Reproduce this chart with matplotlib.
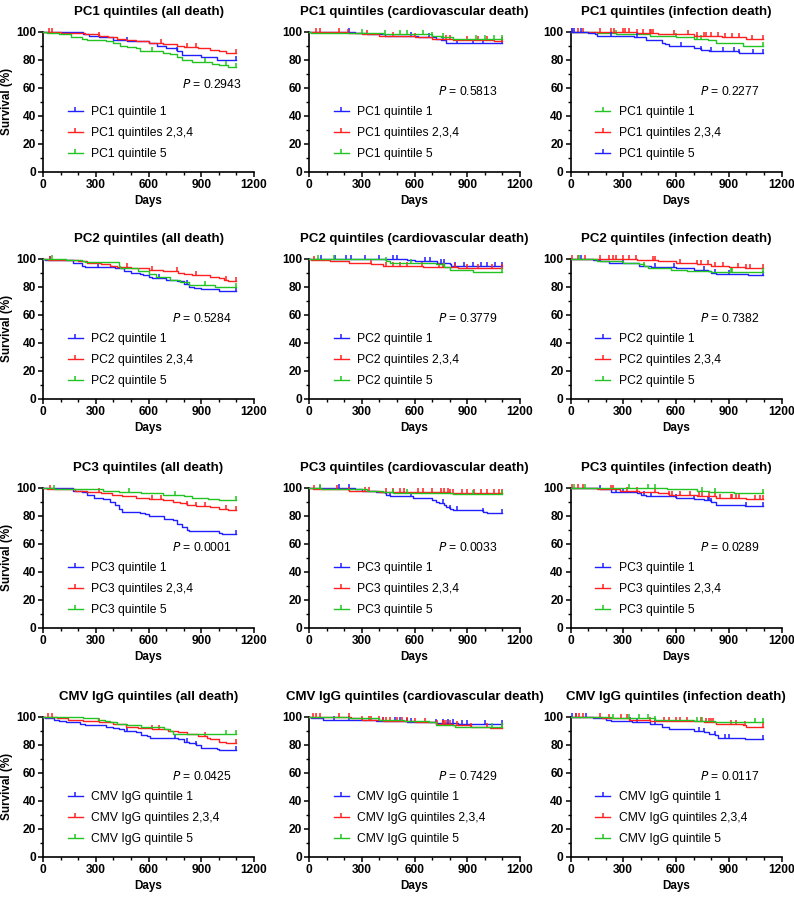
import numpy as np
import matplotlib
matplotlib.use("Agg")
import matplotlib.pyplot as plt
from matplotlib.ticker import MultipleLocator

plt.rcParams['font.family'] = ['Liberation Sans', 'DejaVu Sans']

# ---- data: step points (day, survival %) and censor days for each curve ----
# row 1: PC1
pc1_all_q1 = [(230, 98), (260, 97), (320, 96), (400, 94), (480, 93), (600, 92), (650, 90), (700, 88), (760, 86), (790, 83), (900, 82), (990, 80)]
pc1_all_q1_cens = [480, 760, 1095]
pc1_all_q234 = [(100, 99), (240, 98), (320, 97), (370, 96), (420, 95), (470, 94), (530, 93), (600, 92), (680, 91), (760, 90), (800, 89), (880, 88), (950, 87), (1000, 86), (1040, 85)]
pc1_all_q234_cens = [34, 53, 320, 670, 820, 870, 1095]
pc1_all_q5 = [(20, 99), (90, 98), (160, 96), (220, 95), (250, 94), (360, 93), (400, 92), (440, 90), (480, 89), (530, 88), (550, 86), (680, 85), (720, 84), (760, 82), (790, 80), (850, 78), (960, 77), (1000, 76), (1050, 75)]
pc1_all_q5_cens = [620, 920, 1040, 1095]

pc1_cv_q1 = [(260, 99), (330, 98), (430, 97), (620, 96), (720, 95), (750, 94), (780, 92)]
pc1_cv_q1_cens = [230, 580, 680, 760, 840, 930, 990, 1095]
pc1_cv_q234 = [(220, 99), (300, 98), (400, 97), (600, 96), (700, 95), (820, 94), (1050, 93.5)]
pc1_cv_q234_cens = [40, 60, 170, 220, 330, 480, 600, 780, 800, 900, 960, 1010, 1095]
pc1_cv_q5 = [(10, 99), (420, 98), (700, 97), (750, 96), (820, 95)]
pc1_cv_q5_cens = [300, 430, 520, 560, 650, 700, 760, 950, 1000, 1050, 1095]

pc1_inf_q1 = [(150, 99), (260, 98), (450, 97), (600, 96), (700, 95), (780, 94), (830, 92), (980, 90), (1000, 89.5)]
pc1_inf_q1_cens = [260, 600, 720, 740, 1095]
pc1_inf_q234 = [(380, 99), (500, 98), (700, 97), (860, 96), (1000, 95)]
pc1_inf_q234_cens = [10, 40, 70, 170, 230, 250, 300, 310, 330, 380, 410, 450, 460, 470, 590, 670, 720, 760, 770, 800, 840, 880, 920, 960, 1030, 1095]
pc1_inf_q5 = [(100, 99), (140, 98), (150, 97), (360, 96), (430, 94), (520, 92), (540, 91), (560, 90), (700, 88), (740, 87), (790, 86), (960, 85), (980, 84.5)]
pc1_inf_q5_cens = [10, 20, 60, 230, 380, 630, 740, 800, 870, 930, 960, 1040, 1095]

# row 2: PC2
pc2_all_q1 = [(10, 99), (170, 97), (220, 95), (240, 94), (410, 93), (460, 91), (500, 90), (550, 89), (570, 88), (600, 87), (620, 86), (700, 85), (760, 84), (800, 82), (830, 80), (860, 79), (900, 78), (1000, 77)]
pc2_all_q1_cens = [40, 310, 660, 820, 1095]
pc2_all_q234 = [(30, 99), (200, 98), (250, 97), (330, 96), (380, 95), (420, 94), (500, 93), (600, 92), (680, 91), (770, 90), (800, 89), (850, 88), (950, 87), (1000, 86), (1030, 85), (1050, 84)]
pc2_all_q234_cens = [40, 480, 620, 760, 870, 1040, 1095]
pc2_all_q5 = [(130, 99), (220, 98), (240, 97.5), (430, 95), (440, 93), (540, 91), (600, 89), (640, 87), (720, 85), (780, 83), (830, 81), (980, 80)]
pc2_all_q5_cens = [50, 920, 1095]

pc2_cv_q1 = [(560, 99), (600, 98), (730, 97), (800, 96), (810, 95), (830, 94.5)]
pc2_cv_q1_cens = [70, 150, 210, 240, 320, 400, 480, 500, 660, 690, 750, 770, 830, 880, 930, 980, 1010, 1060, 1095]
pc2_cv_q234 = [(10, 99), (120, 98), (230, 97), (350, 96), (420, 95), (650, 94), (850, 93)]
pc2_cv_q234_cens = [30, 350, 440, 480, 520, 560, 640, 740, 760, 770, 830, 900, 960, 1040, 1095]
pc2_cv_q5 = [(440, 98), (460, 97), (720, 96), (770, 94), (800, 92), (930, 90.5)]
pc2_cv_q5_cens = [50, 140, 440, 580, 770, 1095]

pc2_inf_q1 = [(130, 99), (170, 98), (220, 97), (390, 95), (460, 94), (600, 93), (700, 92), (780, 91), (800, 90), (830, 89), (1010, 88)]
pc2_inf_q1_cens = [60, 300, 480, 590, 760, 820, 900, 1095]
pc2_inf_q234 = [(380, 99), (500, 98), (600, 97), (720, 96), (800, 95), (900, 94), (990, 93.5)]
pc2_inf_q234_cens = [10, 40, 80, 170, 220, 240, 260, 300, 330, 370, 470, 480, 620, 720, 740, 780, 820, 870, 950, 1000, 1020, 1095]
pc2_inf_q5 = [(150, 98), (300, 97), (390, 96), (420, 95), (440, 93), (570, 92), (660, 91), (800, 90.5)]
pc2_inf_q5_cens = [50, 420, 910, 920, 1095]

# row 3: PC3
pc3_all_q1 = [(170, 98), (220, 97), (250, 95), (290, 93), (340, 92), (380, 90), (410, 88), (430, 85), (450, 83), (550, 82), (580, 81), (600, 80), (690, 78), (740, 77), (760, 74), (790, 72), (820, 70), (830, 69), (1000, 68), (1020, 67)]
pc3_all_q1_cens = [1095]
pc3_all_q234 = [(20, 99), (180, 98), (250, 97), (330, 96), (390, 95), (450, 94), (530, 93), (600, 92), (680, 91), (740, 90), (780, 89), (820, 88), (870, 87), (950, 86), (1000, 85), (1050, 84)]
pc3_all_q234_cens = [40, 320, 620, 670, 820, 870, 920, 1040, 1095]
pc3_all_q5 = [(60, 99), (340, 98), (430, 97), (560, 96), (680, 95), (800, 94), (850, 93), (940, 92), (1000, 91)]
pc3_all_q5_cens = [60, 490, 750, 1095]

pc3_cv_q1 = [(260, 99), (300, 98), (380, 97), (430, 96), (440, 95), (460, 94), (590, 93), (700, 91), (720, 90), (740, 89), (770, 88), (780, 86), (800, 85), (820, 84), (990, 83), (1010, 82)]
pc3_cv_q1_cens = [170, 230, 460, 580, 760, 800, 840, 990, 1095]
pc3_cv_q234 = [(20, 99), (230, 98), (400, 97), (800, 96)]
pc3_cv_q234_cens = [30, 60, 160, 230, 320, 340, 440, 480, 520, 540, 620, 650, 700, 750, 770, 790, 800, 820, 870, 900, 940, 980, 1010, 1050, 1080, 1095]
pc3_cv_q5 = [(70, 99), (330, 98), (420, 97), (480, 96), (820, 95.5)]
pc3_cv_q5_cens = [60, 480, 560, 930, 1095]

pc3_inf_q1 = [(170, 99), (230, 97), (380, 96), (400, 95), (430, 94), (600, 93), (700, 92), (760, 91), (800, 90), (830, 88), (990, 87)]
pc3_inf_q1_cens = [170, 260, 300, 420, 460, 600, 700, 780, 790, 800, 1000, 1095]
pc3_inf_q234 = [(150, 99), (280, 98), (390, 97), (500, 96), (560, 95), (720, 94), (830, 93), (1000, 92)]
pc3_inf_q234_cens = [10, 40, 70, 230, 240, 320, 380, 480, 560, 580, 620, 680, 730, 750, 790, 820, 850, 910, 920, 940, 960, 1050, 1080, 1095]
pc3_inf_q5 = [(550, 99), (720, 98), (790, 97), (930, 96.5)]
pc3_inf_q5_cens = [20, 80, 330, 440, 480, 750, 820, 1095]

# row 4: CMV IgG
cmv_all_q1 = [(10, 99), (60, 98), (90, 97), (130, 96), (210, 95), (240, 94), (360, 93), (400, 92), (430, 91), (460, 90), (530, 89), (560, 87), (590, 86), (610, 85), (770, 84), (800, 82), (830, 81), (870, 80), (900, 78), (990, 77), (1000, 76)]
cmv_all_q1_cens = [480, 750, 820, 870, 1095]
cmv_all_q234 = [(80, 99), (140, 98), (230, 97), (320, 96), (400, 95), (470, 93), (540, 92), (620, 91), (710, 90), (770, 89), (820, 88), (880, 86), (930, 85), (950, 84), (1000, 82), (1040, 81)]
cmv_all_q234_cens = [30, 50, 320, 620, 660, 920, 1095]
cmv_all_q5 = [(230, 99), (310, 98), (350, 97), (380, 96), (420, 95), (480, 94), (560, 93), (690, 91), (720, 90), (740, 88)]
cmv_all_q5_cens = [1040, 1095]

cmv_cv_q1 = [(10, 99), (80, 98), (380, 97), (560, 96.5), (720, 95.5), (850, 95)]
cmv_cv_q1_cens = [140, 230, 420, 490, 520, 560, 580, 720, 760, 790, 820, 870, 900, 1000, 1095]
cmv_cv_q234 = [(240, 99), (300, 98), (420, 97), (600, 96), (720, 95), (820, 94), (920, 93), (1030, 92)]
cmv_cv_q234_cens = [20, 40, 60, 170, 230, 300, 340, 350, 400, 420, 440, 460, 500, 530, 560, 600, 660, 730, 760, 770, 780, 800, 840, 920, 1010, 1095]
cmv_cv_q5 = [(230, 99), (400, 98), (540, 97), (680, 96), (720, 94), (830, 93)]
cmv_cv_q5_cens = [1040, 1095]

cmv_inf_q1 = [(130, 99), (200, 98), (230, 97), (350, 96), (450, 95), (520, 93), (560, 91), (700, 90), (760, 89), (790, 88), (820, 87), (840, 85), (990, 84)]
cmv_inf_q1_cens = [10, 30, 90, 340, 380, 480, 730, 760, 820, 880, 900, 1095]
cmv_inf_q234 = [(180, 99), (330, 98), (450, 97), (760, 96), (830, 95), (980, 94), (1000, 92.5)]
cmv_inf_q234_cens = [30, 50, 70, 170, 220, 290, 320, 450, 530, 560, 600, 620, 660, 740, 770, 790, 800, 810, 910, 940, 990, 1095]
cmv_inf_q5 = [(230, 99), (480, 98), (700, 97), (820, 96)]
cmv_inf_q5_cens = [240, 330, 390, 440, 480, 720, 750, 1050, 1095]

titles = [
    ["PC1 quintiles (all death)", "PC1 quintiles (cardiovascular death)", "PC1 quintiles (infection death)"],
    ["PC2 quintiles (all death)", "PC2 quintiles (cardiovascular death)", "PC2 quintiles (infection death)"],
    ["PC3 quintiles (all death)", "PC3 quintiles (cardiovascular death)", "PC3 quintiles (infection death)"],
    ["CMV IgG quintiles (all death)", "CMV IgG quintiles (cardiovascular death)", "CMV IgG quintiles (infection death)"],
]
p_values = [
    ["0.2943", "0.5813", "0.2277"],
    ["0.5284", "0.3779", "0.7382"],
    ["0.0001", "0.0033", "0.0289"],
    ["0.0425", "0.7429", "0.0117"],
]
groups = ["PC1", "PC2", "PC3", "CMV IgG"]
label_suffix = ["quintile 1", "quintiles 2,3,4", "quintile 5"]

curves = [
    [(pc1_all_q1, pc1_all_q1_cens, pc1_all_q234, pc1_all_q234_cens, pc1_all_q5, pc1_all_q5_cens),
     (pc1_cv_q1, pc1_cv_q1_cens, pc1_cv_q234, pc1_cv_q234_cens, pc1_cv_q5, pc1_cv_q5_cens),
     (pc1_inf_q1, pc1_inf_q1_cens, pc1_inf_q234, pc1_inf_q234_cens, pc1_inf_q5, pc1_inf_q5_cens)],
    [(pc2_all_q1, pc2_all_q1_cens, pc2_all_q234, pc2_all_q234_cens, pc2_all_q5, pc2_all_q5_cens),
     (pc2_cv_q1, pc2_cv_q1_cens, pc2_cv_q234, pc2_cv_q234_cens, pc2_cv_q5, pc2_cv_q5_cens),
     (pc2_inf_q1, pc2_inf_q1_cens, pc2_inf_q234, pc2_inf_q234_cens, pc2_inf_q5, pc2_inf_q5_cens)],
    [(pc3_all_q1, pc3_all_q1_cens, pc3_all_q234, pc3_all_q234_cens, pc3_all_q5, pc3_all_q5_cens),
     (pc3_cv_q1, pc3_cv_q1_cens, pc3_cv_q234, pc3_cv_q234_cens, pc3_cv_q5, pc3_cv_q5_cens),
     (pc3_inf_q1, pc3_inf_q1_cens, pc3_inf_q234, pc3_inf_q234_cens, pc3_inf_q5, pc3_inf_q5_cens)],
    [(cmv_all_q1, cmv_all_q1_cens, cmv_all_q234, cmv_all_q234_cens, cmv_all_q5, cmv_all_q5_cens),
     (cmv_cv_q1, cmv_cv_q1_cens, cmv_cv_q234, cmv_cv_q234_cens, cmv_cv_q5, cmv_cv_q5_cens),
     (cmv_inf_q1, cmv_inf_q1_cens, cmv_inf_q234, cmv_inf_q234_cens, cmv_inf_q5, cmv_inf_q5_cens)],
]

BLUE = "#1f1fff"
RED = "#ff2020"
GREEN = "#22c322"
END_DAY = 1095

# upward tick used for censoring marks
tick_marker = [(0, 0), (0, 1)]


def step_xy(steps):
    xs = [0] + [s[0] for s in steps] + [END_DAY]
    ys = [100] + [s[1] for s in steps] + [steps[-1][1]]
    return np.array(xs), np.array(ys)


def surv_at(steps, days):
    t = np.array([0] + [s[0] for s in steps])
    v = np.array([100] + [s[1] for s in steps])
    idx = np.searchsorted(t, days, side='right') - 1
    return v[idx]


fig = plt.figure(figsize=(7.94, 8.97), dpi=100)

lefts = [43 / 794, 309 / 794, 570.5 / 794]
bottoms = [1 - 171.7 / 897, 1 - 398.7 / 897, 1 - 627.7 / 897, 1 - 856.7 / 897]
w = 211 / 794
h = 140 / 897

for r in range(4):
    for c in range(3):
        ax = fig.add_axes([lefts[c], bottoms[r], w, h])
        q1, q1c, q234, q234c, q5, q5c = curves[r][c]
        if r == 0 and c == 2:
            cols = [GREEN, RED, BLUE]
        else:
            cols = [BLUE, RED, GREEN]
        handles = []
        for (steps, cens, col, suf) in [(q1, q1c, cols[0], label_suffix[0]),
                                        (q234, q234c, cols[1], label_suffix[1]),
                                        (q5, q5c, cols[2], label_suffix[2])]:
            xs, ys = step_xy(steps)
            ax.plot(xs, ys, drawstyle='steps-post', color=col, lw=1.0, clip_on=False, zorder=3)
            cy = surv_at(steps, np.array(cens))
            ax.plot(cens, cy, ls='none', marker=tick_marker, ms=5.5, mec=col, mew=1.1,
                    clip_on=False, zorder=3)
            hl, = ax.plot([], [], color=col, lw=1.0, marker=tick_marker, ms=5.5, mec=col, mew=1.1,
                          label=groups[r] + " " + suf)
            handles.append(hl)

        ax.legend(handles=handles, loc='center left', bbox_to_anchor=(0.117, 0.276),
                  frameon=False, fontsize=8.7, borderpad=0, borderaxespad=0,
                  handlelength=1.25, handletextpad=0.7, labelspacing=0.72, numpoints=1)

        if r == 0 and c == 0:
            px, py = 792, 62
        else:
            px, py = 735, 57
        ax.text(px, py, r"$P$" + " = " + p_values[r][c], fontsize=8.7, va='center', ha='left')

        ax.set_xlim(0, 1200)
        ax.set_ylim(0, 100)
        ax.xaxis.set_major_locator(MultipleLocator(300))
        ax.xaxis.set_minor_locator(MultipleLocator(100))
        ax.yaxis.set_major_locator(MultipleLocator(20))
        ax.yaxis.set_minor_locator(MultipleLocator(10))
        for s in ['top', 'right']:
            ax.spines[s].set_visible(False)
        for s in ['left', 'bottom']:
            ax.spines[s].set_linewidth(1.2)
        ax.tick_params(which='major', direction='out', length=3.5, width=1.1, labelsize=8.6, pad=1.5)
        ax.tick_params(which='minor', direction='out', length=2, width=1.0)
        for lab in ax.get_xticklabels() + ax.get_yticklabels():
            lab.set_fontweight('bold')
        ax.set_xlabel("Days", fontsize=8.4, fontweight='bold', labelpad=3)
        if c == 0:
            ax.set_ylabel("Survival (%)", fontsize=8.4, fontweight='bold', labelpad=2)
        ax.set_title(titles[r][c], fontsize=9.5, fontweight='bold', pad=12)

fig.savefig("out.png", dpi=100)
